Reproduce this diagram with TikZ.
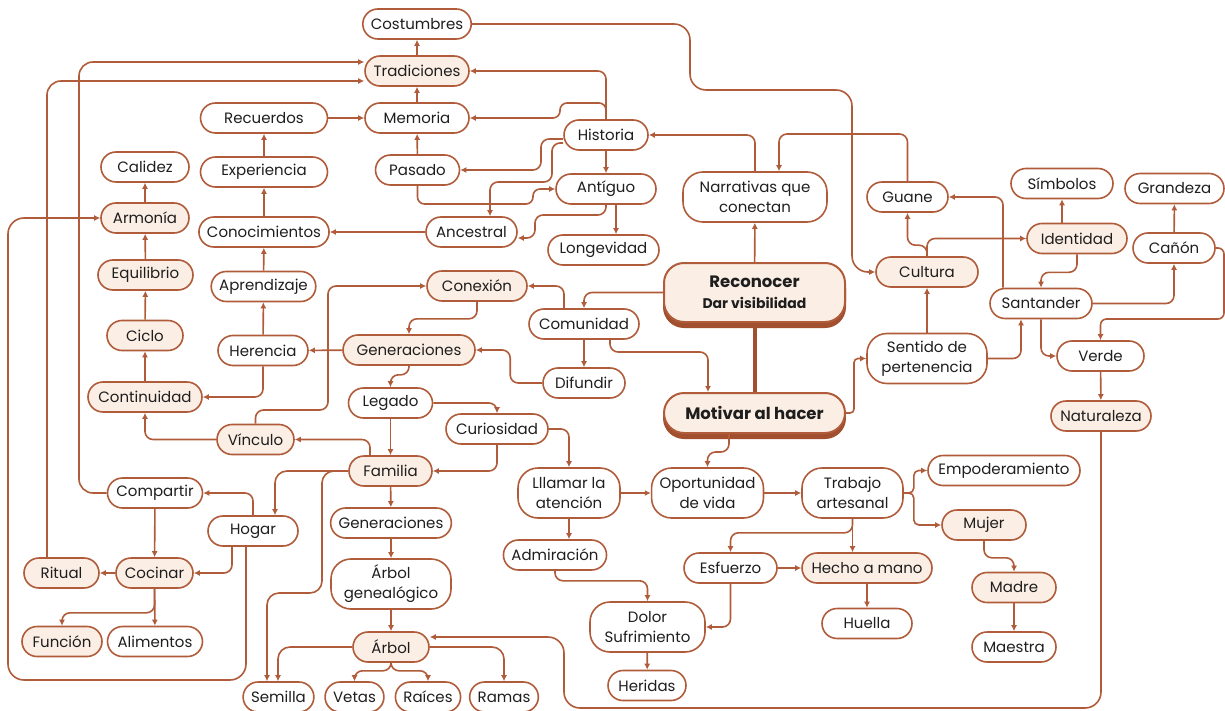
\documentclass[tikz,border=0pt]{standalone}
\usepackage{fontspec}
\setmainfont{Poppins}
\usepackage{tikz}
\usetikzlibrary{arrows.meta}
\definecolor{MapLine}{HTML}{B05C3B}
\definecolor{MapFill}{HTML}{FBEEE4}
\definecolor{MapShade}{HTML}{A14F2E}
\definecolor{MapInk}{HTML}{1E1E1E}

\begin{document}
\begin{tikzpicture}[
  x=1pt, y=-1pt,
  term/.style={draw=MapLine, line width=1.6pt, fill=white, rounded corners=15pt, minimum height=30pt,
    inner xsep=8pt, inner ysep=2pt, text=MapInk, font=\fontsize{15}{20}\selectfont},
  keyterm/.style={term, fill=MapFill},
  twoline/.style={term, align=center, rounded corners=20pt, minimum height=50pt},
  core/.style={term, fill=MapFill, line width=2pt, rounded corners=20pt, align=center,
    font=\bfseries\fontsize{14}{21}\selectfont,
    preaction={draw=MapShade, fill=MapShade, line width=2pt, transform canvas={yshift=-5pt}}},
  link/.style={draw=MapLine, line width=1.6pt, rounded corners=8pt, -{Latex[length=6pt,width=6pt]}}
]
  \fill[white] (0,0) rectangle (1225,711);
  \useasboundingbox (0,0) rectangle (1225,711);

  \node[term, minimum width=104] (cost) at (417,24) {Costumbres};
  \node[keyterm, minimum width=104] (trad) at (417,71) {Tradiciones};
  \node[term, minimum width=104] (mem) at (417,118) {Memoria};
  \node[term, minimum width=127] (recu) at (264,118) {Recuerdos};
  \node[term, minimum width=84] (pas) at (417.5,170) {Pasado};
  \node[term, minimum width=84] (hist) at (606,135) {Historia};
  \node[term, minimum width=100] (ant) at (606,189) {Antíguo};
  \node[term, minimum width=91] (anc) at (471.5,232) {Ancestral};
  \node[term, minimum width=111] (long) at (603.5,250) {Longevidad};
  \node[term, minimum width=88] (cal) at (145,167) {Calidez};
  \node[term, minimum width=127] (exp) at (264,172) {Experiencia};
  \node[keyterm, minimum width=88] (arm) at (145,218) {Armonía};
  \node[term, minimum width=127] (cono) at (264,232) {Conocimientos};
  \node[keyterm, minimum width=95] (equi) at (145.5,275) {Equilibrio};
  \node[term, minimum width=99] (apre) at (263.5,286.5) {Aprendizaje};
  \node[keyterm, minimum width=76] (cic) at (145,335.5) {Ciclo};
  \node[term, minimum width=90] (her) at (263,350.5) {Herencia};
  \node[keyterm, minimum width=114] (cont) at (145,397) {Continuidad};
  \node[keyterm, minimum width=77] (vin) at (255.5,439.5) {Vínculo};
  \node[keyterm, minimum width=132] (gen) at (409,350) {Generaciones};
  \node[term, minimum width=84] (leg) at (390.5,403) {Legado};
  \node[keyterm, minimum width=100] (conx) at (477,286) {Conexión};
  \node[term, minimum width=110] (comu) at (584,324) {Comunidad};
  \node[term, minimum width=82] (dif) at (584,383) {Difundir};
  \node[term, minimum width=102] (cur) at (497,429) {Curiosidad};
  \node[keyterm, minimum width=83] (fam) at (390.5,471) {Familia};
  \node[core, minimum width=181, minimum height=59] (rec) at (754.5,292.5)
    {{\fontsize{16.5}{21}\selectfont Reconocer}\\Dar visibilidad};
  \node[core, minimum width=181, minimum height=40] (mot) at (754.5,413)
    {{\fontsize{16.5}{21}\selectfont Motivar al hacer}};
  \node[twoline, minimum width=144] (narr) at (755,197) {Narrativas que\\conectan};
  \node[term, minimum width=81] (gua) at (907.5,197) {Guane};
  \node[term, minimum width=102] (sim) at (1062,183.5) {Símbolos};
  \node[term, minimum width=99] (gra) at (1174.5,188.5) {Grandeza};
  \node[keyterm, minimum width=100] (ide) at (1077,238.5) {Identidad};
  \node[term, minimum width=82] (can) at (1174,248) {Cañón};
  \node[keyterm, minimum width=102] (cul) at (927,272) {Cultura};
  \node[term, minimum width=102] (san) at (1041,303.5) {Santander};
  \node[twoline, minimum width=120] (sen) at (927,358.5) {Sentido de\\pertenencia};
  \node[term, minimum width=87] (ver) at (1100.5,356) {Verde};
  \node[keyterm, minimum width=100] (nat) at (1101,416) {Naturaleza};
  \node[term, minimum width=95] (comp) at (155,493) {Compartir};
  \node[term, minimum width=90] (hog) at (253,531) {Hogar};
  \node[keyterm, minimum width=75] (rit) at (61.5,573) {Ritual};
  \node[keyterm, minimum width=77] (coc) at (154.5,573) {Cocinar};
  \node[keyterm, minimum width=80] (fun) at (62,641.5) {Función};
  \node[term, minimum width=95] (ali) at (155,641.5) {Alimentos};
  \node[term, minimum width=120] (gen2) at (391,523) {Generaciones};
  \node[twoline, minimum width=120] (agen) at (391,584) {Árbol\\genealógico};
  \node[keyterm, minimum width=76] (arb) at (391,647) {Árbol};
  \node[term, minimum width=65] (sem) at (278.5,697) {Semilla};
  \node[term, minimum width=57] (vet) at (354.5,697) {Vetas};
  \node[term, minimum width=62] (rai) at (428,697) {Raíces};
  \node[term, minimum width=66] (ram) at (504,697) {Ramas};
  \node[twoline, minimum width=102] (llam) at (569,493) {Lllamar la\\atención};
  \node[term, minimum width=102] (adm) at (555,555) {Admiración};
  \node[twoline, minimum width=111] (opo) at (707.5,493) {Oportunidad\\de vida};
  \node[twoline, minimum width=101] (trab) at (852.5,493) {Trabajo\\artesanal};
  \node[term, minimum width=93] (esf) at (730.5,568) {Esfuerzo};
  \node[keyterm, minimum width=130] (hech) at (867,568) {Hecho a mano};
  \node[twoline, minimum width=115] (dol) at (647.5,627) {Dolor\\Sufrimiento};
  \node[term, minimum width=90] (hue) at (867,623.5) {Huella};
  \node[term, minimum width=78] (heri) at (647,685.5) {Heridas};
  \node[term, minimum width=152] (emp) at (1004,470.5) {Empoderamiento};
  \node[keyterm, minimum width=84] (muj) at (984,525) {Mujer};
  \node[keyterm, minimum width=84] (mad) at (1014,587.5) {Madre};
  \node[term, minimum width=84] (mae) at (1014,647) {Maestra};

  \draw[MapShade, line width=4pt] (rec) -- (mot);

  \draw[link] (trad) -- (cost);
  \draw[link] (mem) -- (trad);
  \draw[link] (pas) -- (mem);
  \draw[link] (recu) -- (mem);
  \draw[link] (exp) -- (recu);
  \draw[link] (cono) -- (exp);
  \draw[link] (anc) -- (cono);
  \draw[link] (apre) -- (cono);
  \draw[link] (her) -- (apre);
  \draw[link] (gen) -- (her);
  \draw[link] (her.south) |- (cont.east);
  \draw[link] (cont) -- (cic);
  \draw[link] (cic) -- (equi);
  \draw[link] (equi) -- (arm);
  \draw[link] (arm) -- (cal);
  \draw[link] (vin.west) -| (cont.south);
  \draw[link] (fam.north -| 370,0) |- (vin.east);
  \draw[link] (vin.north) |- (328,410) |- (conx.west);
  \draw[link] (conx.south) -- ++(0,17) -| (gen.north);
  \draw[link] (comu.north -| 564,0) |- (conx.east);
  \draw[link] (rec.west) -| (comu.north);
  \draw[link] (comu) -- (dif);
  \draw[link] (dif.west) -- ++(-32,0) |- (gen.east);
  \draw[link] (comu.south -| 610,0) |- (708,352) -- (mot.north -| 708,0);
  \draw[link] (gen.south) -- ++(0,9) -| (leg.north);
  \draw[link] (leg) -- (fam);
  \draw[link] (leg.east) -| (cur.north);
  \draw[link] (cur.south) |- (fam.east);
  \draw[link] (cur.east) -| (llam.north);
  \draw[link] (mot.south -| 729,0) |- (opo.north |- 0,452) -- (opo.north);
  \draw[link, rounded corners=4pt] (mot.east) -- ++(8,0) |- (sen.west);
  \draw[link] (sen) -- (cul);
  \draw[link] (sen.east) -| (san.south -| 1021,0);
  \draw[link] (cul.north) |- (ide.west);
  \draw[link] (cul.north) -- ++(0,-11) -| (gua.south);
  \draw[link] (ide.north -| sim.south) -- (sim.south);
  \draw[link] (ide.south) -- ++(0,18) -| (san.north);
  \draw[link] (san.north -| 1003,0) |- (gua.east);
  \draw[link] (san.east) -| (can.south);
  \draw[link] (can) -- (gra);
  \draw[link, rounded corners=6pt] (can.east) -| (1224,319) -| (ver.north);
  \draw[link] (san.south) |- (ver.west);
  \draw[link] (ver) -- (nat);
  \draw[link, rounded corners=16pt] (nat.south) |- (564,708) |- (arb.east |- 0,637);
  \draw[link] (hist) -- (ant);
  \draw[link] (hist.north) |- (trad.east);
  \draw[link, rounded corners=7pt] (hist.north) |- (560,103) |- (mem.east);
  \draw[link] (hist.west |- 0,139) -- (541,139) |- (pas.east);
  \draw[link] (hist.west |- 0,143) -| (552,182) -| (anc.north -| 490,0);
  \draw[link, rounded corners=7pt] (pas.south) |- (533,204) |- (ant.west);
  \draw[link] (ant.south) |- (535,215) |- (anc.east |- 0,238);
  \draw[link] (ant.south -| 616,0) -- (long.north -| 616,0);
  \draw[link] (rec) -- (narr);
  \draw[link] (narr.north) |- (hist.east);
  \draw[link] (gua.north) |- (779,134) -- (narr.north -| 779,0);
  \draw[link, rounded corners=16pt] (cost.east) -| (690,90) -| (852,272) -- (cul.west);
  \draw[link] (llam) -- (opo);
  \draw[link] (opo) -- (trab);
  \draw[link] (llam) -- (llam |- adm.north);
  \draw[link] (adm.south) -- ++(0,10) -| (dol.north);
  \draw[link] (dol) -- (heri);
  \draw[link] (esf.south) |- (dol.east);
  \draw[link] (esf) -- (hech);
  \draw[link] (trab) -- (trab |- hech.north);
  \draw[link] (trab.south) -- ++(0,14) -| (esf.north);
  \draw[link] (hech) -- (hue);
  \draw[link, rounded corners=5pt] (trab.east) -- ++(10,0) |- (emp.west);
  \draw[link, rounded corners=5pt] (trab.east) -- ++(10,0) |- (muj.west);
  \draw[link] (muj.south) -- ++(0,17) -| (mad.north);
  \draw[link] (mad) -- (mae);
  \draw[link, rounded corners=12pt] (fam.west) -| (hog.north -| 275,0);
  \draw[link, rounded corners=12pt] (fam.west) -| (322,593) -| (sem.north -| 267,0);
  \draw[link, rounded corners=12pt] (arb.west) -| (sem.north -| 278,0);
  \draw[link] (arb.south) -- ++(0,8) -| (vet.north);
  \draw[link] (arb.south) -- ++(0,8) -| (rai.north);
  \draw[link, rounded corners=12pt] (arb.east) -| (ram.north);
  \draw[link] (fam) -- (gen2);
  \draw[link] (gen2) -- (agen);
  \draw[link] (agen) -- (arb);
  \draw[link] (hog.north) |- (comp.east);
  \draw[link] (hog.south -| 232,0) |- (coc.east);
  \draw[link] (comp) -- (coc);
  \draw[link] (coc) -- (rit);
  \draw[link] (coc) -- (ali);
  \draw[link] (coc.south) -- ++(0,24) -| (fun.north);
  \draw[link, rounded corners=14pt] (comp.west) -| (79,62) -- (trad.west |- 0,62);
  \draw[link, rounded corners=14pt] (rit.north -| 47,0) |- (trad.west |- 0,81);
  \draw[link, rounded corners=16pt] (hog.south -| 246,0) |- (8,680) |- (arm.west);
\end{tikzpicture}
\end{document}
